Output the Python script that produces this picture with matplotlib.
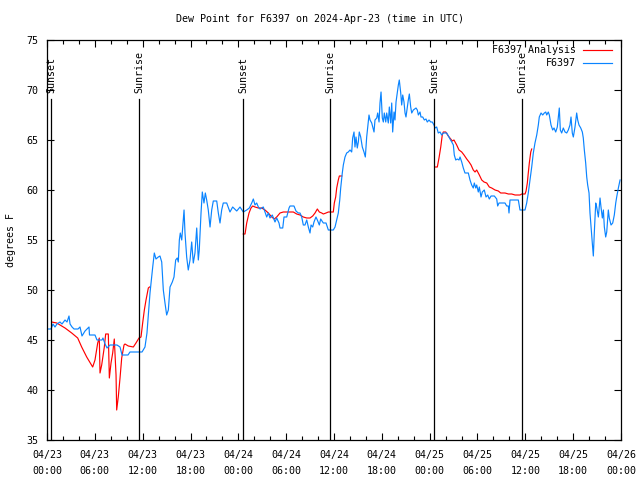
import numpy as np
import matplotlib
matplotlib.use("Agg")
import matplotlib.pyplot as plt
from matplotlib.ticker import MultipleLocator

# Dew point observations (hours since 2024-04-23 00:00 UTC, deg F)
obs_hours = [0.13, 0.50, 0.75, 1.00, 1.25, 1.63, 1.88, 2.26, 2.51, 2.76, 2.89, 3.14, 3.39, 3.89,
             4.14, 4.39, 4.77, 5.02, 5.27, 5.33, 6.02, 6.27, 6.90, 7.02, 7.28, 7.53, 7.90, 8.78,
             9.16, 9.41, 10.16, 10.41, 11.92, 12.29, 12.54, 12.73, 12.92, 13.26, 13.46, 13.67,
             13.96, 14.17, 14.39, 14.59, 14.80, 15.01, 15.22, 15.43, 15.72, 15.93, 16.14, 16.34,
             16.47, 16.60, 16.72, 16.90, 17.02, 17.19, 17.31, 17.52, 17.72, 17.94, 18.15, 18.35,
             18.56, 18.78, 18.98, 19.10, 19.32, 19.48, 19.69, 19.86, 20.03, 20.23, 20.45, 20.66,
             20.86, 21.29, 21.49, 21.70, 21.91, 22.11, 22.54, 22.95, 23.29, 23.80, 24.21, 24.62,
             25.05, 25.38, 25.68, 25.88, 26.09, 26.30, 26.51, 26.72, 27.13, 27.35, 27.56, 27.76,
             27.97, 28.26, 28.60, 28.81, 29.10, 29.23, 29.57, 29.73, 30.07, 30.36, 30.48, 30.98,
             31.23, 31.52, 31.74, 31.95, 32.15, 32.36, 32.58, 32.78, 32.99, 33.12, 33.33, 33.49,
             33.74, 33.91, 34.16, 34.33, 34.66, 35.00, 35.29, 35.91, 36.13, 36.34, 36.54, 36.72,
             36.84, 37.04, 37.17, 37.38, 37.59, 37.79, 38.01, 38.22, 38.34, 38.51, 38.63, 38.76,
             38.92, 39.05, 39.17, 39.35, 39.55, 39.76, 39.93, 40.10, 40.23, 40.39, 40.52, 40.73,
             40.86, 41.02, 41.14, 41.36, 41.48, 41.65, 41.77, 41.90, 42.06, 42.19, 42.31, 42.49,
             42.61, 42.81, 42.94, 43.11, 43.24, 43.36, 43.53, 43.65, 43.78, 43.94, 44.07, 44.19,
             44.37, 44.49, 44.62, 44.78, 44.91, 45.03, 45.20, 45.32, 45.45, 45.62, 45.75, 45.95,
             46.29, 46.45, 46.58, 46.79, 46.91, 47.13, 47.33, 47.54, 47.70, 47.92, 48.13, 48.33,
             48.54, 48.67, 48.88, 49.08, 49.30, 49.51, 49.71, 50.14, 50.34, 50.55, 50.77, 50.97,
             51.09, 51.27, 51.47, 51.68, 51.81, 52.02, 52.22, 52.43, 52.85, 53.06, 53.27, 53.47,
             53.60, 53.78, 53.90, 54.10, 54.23, 54.44, 54.60, 54.85, 55.07, 55.28, 55.48, 55.70,
             56.11, 56.41, 56.53, 56.70, 57.45, 57.66, 57.87, 57.95, 58.08, 59.12, 59.33, 59.96,
             60.17, 60.37, 60.59, 60.80, 61.00, 61.21, 61.43, 61.63, 61.75, 61.97, 62.18, 62.38,
             62.56, 62.68, 62.88, 63.01, 63.22, 63.43, 63.60, 63.81, 64.01, 64.14, 64.26, 64.39,
             64.56, 64.76, 64.98, 65.19, 65.39, 65.60, 65.73, 65.89, 66.02, 66.23, 66.44, 66.57,
             66.73, 66.95, 67.15, 67.27, 67.40, 67.57, 67.70, 67.82, 67.99, 68.11, 68.24, 68.40,
             68.53, 68.65, 68.83, 68.95, 69.16, 69.37, 69.49, 69.66, 69.79, 69.91, 70.08, 70.21,
             70.41, 70.53, 70.75, 70.96, 71.16, 71.34, 71.46, 71.67, 71.88]
obs_dewpt = [46.1, 46.1, 46.6, 46.3, 46.6, 46.8, 46.6, 47.0, 46.8, 47.4, 46.6, 46.3, 46.1, 46.1,
             46.3, 45.4, 45.9, 46.1, 46.3, 45.5, 45.5, 45.0, 45.0, 45.2, 44.6, 44.2, 44.5, 44.5,
             44.3, 43.5, 43.5, 43.8, 43.8, 44.3, 45.7, 47.7, 49.7, 52.3, 53.7, 53.1,
             53.3, 53.4, 52.8, 50.0, 48.7, 47.5, 48.0, 50.3, 50.8, 51.3, 53.0, 53.2,
             52.8, 55.0, 55.7, 55.0, 56.3, 58.0, 55.7, 53.3, 52.0, 53.0, 54.8, 52.7,
             53.7, 56.2, 53.0, 54.0, 57.7, 59.8, 58.7, 59.7, 59.0, 58.0, 56.3, 58.0,
             58.9, 58.9, 57.7, 56.7, 58.0, 58.7, 58.7, 57.8, 58.3, 57.9, 58.3, 57.8,
             58.0, 58.2, 58.7, 59.1, 58.5, 58.7, 58.3, 58.1, 58.3, 57.8, 57.3, 57.7,
             57.2, 57.5, 56.8, 57.2, 56.7, 56.2, 56.2, 57.3, 57.3, 58.2, 58.4, 58.4,
             57.9, 57.7, 57.7, 57.3, 56.5, 56.5, 57.0, 56.3, 55.7, 56.5, 56.3, 56.8,
             57.3, 57.0, 56.5, 57.1, 56.7, 56.7, 56.0, 56.0, 56.3, 57.0, 57.7, 59.0,
             60.2, 61.7, 62.5, 63.3, 63.7, 63.8, 64.0, 63.8, 65.2, 65.8, 64.3, 65.3,
             64.2, 64.8, 65.8, 65.3, 64.3, 63.8, 63.3, 65.3, 66.3, 67.5, 67.0, 66.7,
             66.3, 65.8, 67.0, 67.2, 67.7, 66.8, 68.7, 69.8, 67.2, 66.8, 67.7, 66.8,
             67.7, 66.7, 68.3, 66.7, 68.7, 65.8, 67.8, 67.0, 68.8, 69.7, 70.5, 71.0,
             69.7, 68.5, 69.5, 68.8, 67.7, 67.3, 68.3, 69.0, 69.6, 68.3, 67.7, 68.0,
             68.2, 68.0, 67.5, 67.8, 67.3, 67.3, 67.0, 67.1, 66.8, 67.0, 66.8, 66.8,
             66.5, 66.2, 66.3, 65.7, 65.8, 65.5, 65.7, 65.7, 65.4, 65.1, 64.8, 64.5,
             63.5, 63.0, 63.1, 63.0, 63.3, 62.8, 62.2, 61.7, 61.7, 61.0, 60.5, 60.2,
             60.7, 60.2, 60.5, 59.8, 60.3, 59.3, 59.8, 60.0, 59.3, 59.5, 59.1, 59.4,
             59.4, 59.1, 58.4, 58.7, 58.7, 58.4, 58.4, 57.7, 59.0, 59.0, 58.0, 58.0,
             58.7, 59.7, 61.0, 62.3, 63.7, 64.7, 65.5, 66.5, 67.3, 67.7, 67.5, 67.7,
             67.8, 67.5, 67.8, 67.5, 66.5, 66.0, 66.2, 65.8, 66.3, 67.3, 68.2, 66.0,
             65.7, 66.2, 65.8, 65.7, 66.0, 66.5, 67.3, 65.7, 65.3, 66.3, 67.7, 67.0,
             66.5, 66.2, 65.8, 65.2, 64.0, 62.7, 61.3, 60.5, 59.7, 57.7, 56.3, 54.7,
             53.4, 55.7, 58.7, 58.3, 57.3, 59.2, 58.3, 57.2, 58.0, 56.3, 55.3, 55.8,
             58.0, 57.2, 56.5, 56.7, 57.5, 58.7, 59.3, 60.2, 61.0]

# Analysis series (NaN marks the gaps between nighttime segments)
ana_hours = [0.59, 1.22, 2.26, 3.10, 3.85, 4.35, 4.98, 5.73, 6.02, 6.36, 6.56, 6.65, 6.86, 7.19,
             7.36, 7.69, 7.82, 8.03, 8.24, 8.44, 8.66, 8.74, 8.94, 9.16, 9.37, 9.66, 9.78, 10.20,
             10.83, 11.16, 11.54, 11.79, 12.00, 12.21, 12.42, 12.71, 12.86, 18.0,
             24.62, 24.84, 25.05, 25.34, 25.59, 25.80, 26.09, 26.51, 26.93, 27.35, 27.76, 28.19,
             28.51, 28.81, 29.23, 29.64, 30.48, 30.90, 31.32, 31.74, 32.15, 32.58, 32.99, 33.33,
             33.62, 33.91, 34.16, 34.46, 34.66, 35.00, 35.29, 35.91, 36.04, 36.21, 36.34, 36.54,
             36.67, 36.97, 42.0,
             48.67, 48.96, 49.17, 49.39, 49.58, 49.71, 50.01, 50.34, 50.64, 50.84, 51.05, 51.39,
             51.68, 52.02, 52.31, 52.65, 52.94, 53.19, 53.47, 53.69, 53.90, 54.23, 54.53, 54.82,
             55.16, 55.48, 55.78, 56.20, 56.61, 56.91, 57.45, 57.87, 58.29, 58.71, 59.33, 59.55,
             59.96, 60.09, 60.25, 60.37, 60.50, 60.68, 60.80]
ana_dewpt = [46.8, 46.7, 46.2, 45.7, 45.2, 44.3, 43.3, 42.3, 43.0, 44.7, 45.2, 41.7, 42.5, 44.3,
             45.6, 45.6, 41.2, 42.7, 43.7, 45.1, 41.5, 38.0, 39.3, 41.2, 43.2, 44.5, 44.6, 44.4,
             44.3, 44.7, 45.2, 45.3, 46.7, 48.0, 49.0, 50.2, 50.3, np.nan,
             55.6, 55.6, 56.7, 57.7, 58.2, 58.4, 58.3, 58.2, 58.2, 58.0, 57.7, 57.3,
             57.1, 57.3, 57.7, 57.8, 57.8, 57.8, 57.6, 57.5, 57.3, 57.2, 57.2, 57.4,
             57.7, 58.1, 57.8, 57.7, 57.6, 57.7, 57.8, 57.8, 58.7, 59.3, 60.2, 61.0,
             61.4, 61.4, np.nan,
             62.3, 62.3, 63.2, 64.3, 65.5, 65.8, 65.8, 65.4, 65.1, 64.9, 65.0, 64.5,
             64.0, 63.8, 63.5, 63.1, 62.8, 62.5, 62.0, 61.8, 62.0, 61.5, 61.0, 60.8,
             60.7, 60.3, 60.2, 60.0, 59.9, 59.7, 59.7, 59.6, 59.6, 59.5, 59.5, 59.6,
             59.6, 59.9, 60.7, 61.7, 62.7, 63.8, 64.1]

sun_hours = [0.50, 11.54, 24.59, 35.50, 48.54, 59.58]
sun_labels = ["Sunset", "Sunrise", "Sunset", "Sunrise", "Sunset", "Sunrise"]

tick_hours = [0, 6, 12, 18, 24, 30, 36, 42, 48, 54, 60, 66, 72]
tick_labels = ["04/23\n00:00", "04/23\n06:00", "04/23\n12:00", "04/23\n18:00",
               "04/24\n00:00", "04/24\n06:00", "04/24\n12:00", "04/24\n18:00",
               "04/25\n00:00", "04/25\n06:00", "04/25\n12:00", "04/25\n18:00",
               "04/26\n00:00"]

plt.rcParams["font.family"] = "DejaVu Sans Mono"
plt.rcParams["font.size"] = 7.2

fig = plt.figure(figsize=(6.4, 4.8), dpi=100)
ax = fig.add_axes([47 / 640, 40 / 480, 574 / 640, 400 / 480])

ax.plot(ana_hours, ana_dewpt, color="#ff0000", lw=0.85, label="F6397 Analysis")
ax.plot(obs_hours, obs_dewpt, color="#0a84ff", lw=0.85, label="F6397")

for h, lab in zip(sun_hours, sun_labels):
    ax.plot([h, h], [35, 69.1], color="black", lw=0.9)
    ax.text(h, 69.7, lab, rotation=90, ha="center", va="bottom")

ax.set_xlim(0, 72)
ax.set_ylim(35, 75)
ax.set_xticks(tick_hours)
ax.set_xticklabels(tick_labels, linespacing=1.75)
ax.xaxis.set_minor_locator(MultipleLocator(2))
ax.yaxis.set_major_locator(MultipleLocator(5))
ax.tick_params(which="both", direction="in", top=True, right=True, width=0.8)
ax.tick_params(which="major", length=5)
ax.tick_params(which="minor", length=3)
ax.tick_params(axis="x", pad=7)
ax.tick_params(axis="y", pad=6)
for s in ax.spines.values():
    s.set_linewidth(0.9)

ax.set_ylabel("degrees F", labelpad=8)
fig.text(0.5, 1 - 19 / 480, "Dew Point for F6397 on 2024-Apr-23 (time in UTC)",
         ha="center", va="center")

ax.legend(loc="upper right", bbox_to_anchor=(1 - 7.5 / 574, 1 - 3.5 / 400),
          frameon=False, markerfirst=False, handlelength=2.9,
          handletextpad=0.7, labelspacing=0.3, borderaxespad=0, borderpad=0.2)

fig.savefig("out.png", dpi=100)
